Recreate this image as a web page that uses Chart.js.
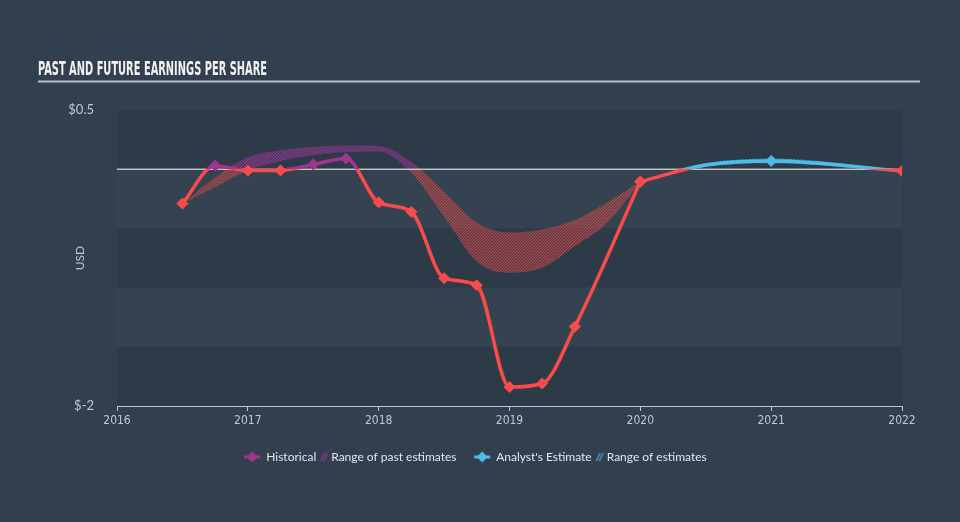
<!DOCTYPE html>
<html>
<head>
<meta charset="utf-8">
<script src="https://cdn.jsdelivr.net/npm/chart.js@4.4.1/dist/chart.umd.min.js"></script>
<style>
  html, body { margin: 0; padding: 0; background: #323f4e; }
  canvas { display: block; }
</style>
</head>
<body>
<canvas id="eps" width="960" height="522"></canvas>
<script>
// ---- data ----
const histX = [2016.5, 2016.75, 2017, 2017.25, 2017.5, 2017.75, 2018, 2018.25, 2018.5, 2018.75, 2019, 2019.25, 2019.5, 2020];
const histEps = [-0.29, 0.03, -0.012, -0.01, 0.04, 0.09, -0.28, -0.36, -0.92, -0.98, -1.84, -1.81, -1.33, -0.105];

const pastRangeX = [2016.5, 2016.75, 2017, 2017.25, 2017.5, 2017.75, 2018, 2018.25, 2018.5, 2018.75, 2019, 2019.25, 2019.5, 2019.75, 2020];
const pastRangeHigh = [-0.29, -0.07, 0.10, 0.16, 0.19, 0.20, 0.195, 0.06, -0.19, -0.45, -0.535, -0.51, -0.43, -0.28, -0.10];
const pastRangeLow = [-0.29, -0.15, -0.01, 0.07, 0.12, 0.145, 0.15, -0.03, -0.40, -0.78, -0.875, -0.83, -0.65, -0.45, -0.11];

const estX = [2020, 2020.5, 2021, 2022];
const estEps = [-0.105, 0.035, 0.07, -0.015];
const estHigh = [-0.105, 0.05, 0.09, -0.005];
const estLow = [-0.105, 0.02, 0.05, -0.025];

const zeroLineX = [2016, 2022];
const yearTicks = [2016, 2017, 2018, 2019, 2020, 2021, 2022];
const yLabelled = [0.5, -2];

const titleText = 'PAST AND FUTURE EARNINGS PER SHARE';
const legendNames = ['Historical', 'Range of past estimates        ', "Analyst's Estimate", 'Range of estimates'];

// ---- colours / fonts ----
const RED = '#fa4b4b';
const PURPLE = '#a2338f';
const BLUE = '#4bbde6';
const TICK = '#c3c8ce';
const DARK_BAND = '#2d3a48';
const LIGHT_BAND = '#35424f';
const CONDENSED = '"DejaVu Sans Condensed", "Liberation Sans Narrow", "DejaVu Sans", sans-serif';

const pts = (xs, ys) => xs.map((x, i) => ({ x, y: ys[i] }));

// stroke that changes colour where the line crosses zero
function splitAtZero(chart, above, below) {
  const { chartArea, scales } = chart;
  if (!chartArea) return below;
  const z = scales.y.getPixelForValue(0);
  const t = Math.min(1, Math.max(0, (z - chartArea.top) / (chartArea.bottom - chartArea.top)));
  const g = chart.ctx.createLinearGradient(0, chartArea.top, 0, chartArea.bottom);
  g.addColorStop(0, above);
  g.addColorStop(t, above);
  g.addColorStop(t, below);
  g.addColorStop(1, below);
  return g;
}

// diagonal hatch, coloured by side of zero
function hatch(chart, above, below) {
  const { chartArea, scales, width, height } = chart;
  if (!chartArea) return 'transparent';
  const z = scales.y.getPixelForValue(0);
  const c = document.createElement('canvas');
  c.width = width;
  c.height = height;
  const g = c.getContext('2d');
  g.lineWidth = 1.1;
  [[0, z, above], [z, height, below]].forEach(([y0, y1, col]) => {
    g.save();
    g.beginPath();
    g.rect(0, y0, width, y1 - y0);
    g.clip();
    g.strokeStyle = col;
    g.beginPath();
    for (let k = -height; k < width; k += 3) {
      g.moveTo(k, height);
      g.lineTo(k + height, 0);
    }
    g.stroke();
    g.restore();
  });
  return chart.ctx.createPattern(c, 'no-repeat');
}

function diamondIcon(color) {
  const c = document.createElement('canvas');
  c.width = 28; c.height = 12;
  const g = c.getContext('2d');
  const cx = 9.5, cy = 6;
  g.fillStyle = color;
  g.fillRect(cx - 8, cy - 1.5, 16, 3);
  g.beginPath();
  g.moveTo(cx, cy - 5.5); g.lineTo(cx + 5.5, cy); g.lineTo(cx, cy + 5.5); g.lineTo(cx - 5.5, cy);
  g.closePath();
  g.fill();
  return c;
}

function hatchIcon(color) {
  const c = document.createElement('canvas');
  c.width = 16; c.height = 12;
  const g = c.getContext('2d');
  g.strokeStyle = color;
  g.lineWidth = 1.5;
  g.beginPath();
  g.moveTo(7, 10); g.lineTo(11, 2);
  g.moveTo(10, 10); g.lineTo(14, 2);
  g.stroke();
  return c;
}

const legendIcons = [diamondIcon(PURPLE), hatchIcon('#8c3a86'), diamondIcon(BLUE), hatchIcon('#3f9ec4')];

const bandsPlugin = {
  id: 'bands',
  beforeDatasetsDraw(chart) {
    const { ctx, chartArea: a, scales: { y } } = chart;
    const vals = y.ticks.map((t) => t.value).sort((p, q) => q - p);
    ctx.save();
    for (let i = 0; i < vals.length - 1; i++) {
      const y0 = y.getPixelForValue(vals[i]);
      const y1 = y.getPixelForValue(vals[i + 1]);
      ctx.fillStyle = i % 2 ? LIGHT_BAND : DARK_BAND;
      ctx.fillRect(a.left, y0, a.right - a.left, y1 - y0);
    }
    ctx.restore();
  },
};

const headerPlugin = {
  id: 'header',
  afterDraw(chart) {
    const { ctx } = chart;
    ctx.save();
    ctx.font = 'bold 20px ' + CONDENSED;
    ctx.fillStyle = '#f2f2f2';
    ctx.textBaseline = 'alphabetic';
    const w = ctx.measureText(titleText).width;
    ctx.translate(38, 74.5);
    ctx.scale(229 / w, 1);
    ctx.fillText(titleText, 0, 0);
    ctx.restore();
    ctx.save();
    ctx.strokeStyle = '#b9bfc5';
    ctx.lineWidth = 2;
    ctx.beginPath();
    ctx.moveTo(38, 81.5);
    ctx.lineTo(920, 81.5);
    ctx.stroke();
    ctx.restore();
  },
};

const pointColor = (above) => (c) => (c.raw && c.raw.y >= 0 ? above : RED);
// estimates only carry a marker on whole years
const yearMarker = (c) => (c.raw && Number.isInteger(c.raw.x) ? 5.5 : 0);

new Chart(document.getElementById('eps'), {
  type: 'line',
  data: {
    datasets: [
      {
        label: 'Historical',
        data: pts(histX, histEps),
        borderColor: (c) => splitAtZero(c.chart, PURPLE, RED),
        borderWidth: 3.5,
        cubicInterpolationMode: 'monotone',
        pointStyle: 'rectRot',
        pointRadius: 5.5,
        pointBackgroundColor: pointColor(PURPLE),
        pointBorderColor: pointColor(PURPLE),
        pointBorderWidth: 1,
        fill: false,
        order: 0,
      },
      {
        label: "Analyst's Estimate",
        data: pts(estX, estEps),
        borderColor: (c) => splitAtZero(c.chart, BLUE, RED),
        borderWidth: 3.5,
        cubicInterpolationMode: 'monotone',
        pointStyle: 'rectRot',
        pointRadius: yearMarker,
        pointBackgroundColor: pointColor(BLUE),
        pointBorderColor: pointColor(BLUE),
        pointBorderWidth: 1,
        fill: false,
        order: 1,
      },
      {
        label: 'zero',
        data: pts(zeroLineX, [0, 0]),
        borderColor: '#ffffff',
        borderWidth: 1,
        pointRadius: 0,
        fill: false,
        order: 2,
      },
      {
        label: 'Range of past estimates',
        data: pts(pastRangeX, pastRangeHigh),
        borderWidth: 0,
        borderColor: 'transparent',
        backgroundColor: (c) => hatch(c.chart, 'rgba(170,55,160,0.9)', 'rgba(240,75,75,0.8)'),
        cubicInterpolationMode: 'monotone',
        pointRadius: 0,
        fill: '+1',
        order: 3,
      },
      {
        label: 'past low',
        data: pts(pastRangeX, pastRangeLow),
        borderWidth: 0,
        borderColor: 'transparent',
        cubicInterpolationMode: 'monotone',
        pointRadius: 0,
        fill: false,
        order: 4,
      },
      {
        label: 'Range of estimates',
        data: pts(estX, estHigh),
        borderWidth: 0,
        borderColor: 'transparent',
        backgroundColor: (c) => hatch(c.chart, 'rgba(75,190,230,0.95)', 'rgba(240,75,75,0.85)'),
        cubicInterpolationMode: 'monotone',
        pointRadius: 0,
        fill: '+1',
        order: 5,
      },
      {
        label: 'est low',
        data: pts(estX, estLow),
        borderWidth: 0,
        borderColor: 'transparent',
        cubicInterpolationMode: 'monotone',
        pointRadius: 0,
        fill: false,
        order: 6,
      },
    ],
  },
  options: {
    responsive: false,
    devicePixelRatio: 1,
    animation: false,
    layout: { padding: { top: 110, right: 0, bottom: 49, left: 0 } },
    plugins: {
      tooltip: { enabled: false },
      legend: {
        position: 'bottom',
        align: 'center',
        labels: {
          usePointStyle: true,
          boxWidth: 7,
          padding: 2,
          color: '#e4e6e8',
          font: { family: 'Lato', size: 12 },
          generateLabels: () => legendNames.map((text, i) => ({
            text,
            pointStyle: legendIcons[i],
            fillStyle: 'transparent',
            strokeStyle: 'transparent',
            lineWidth: 0,
            hidden: false,
            datasetIndex: i,
            fontColor: '#e4e6e8',
          })),
        },
      },
    },
    scales: {
      x: {
        type: 'linear',
        min: yearTicks[0],
        max: yearTicks[yearTicks.length - 1],
        afterBuildTicks: (s) => { s.ticks = yearTicks.map((v) => ({ value: v })); },
        afterFit: (s) => { s.height = 43; },
        ticks: {
          color: TICK,
          font: { family: CONDENSED, size: 12 },
          padding: 3,
          autoSkip: false,
          maxRotation: 0,
          callback: (v) => String(v),
        },
        grid: { display: true, drawOnChartArea: false, drawTicks: true, tickLength: 5, color: '#c0c6cc' },
        border: { display: true, color: '#c0c6cc', width: 1 },
      },
      y: {
        type: 'linear',
        position: 'left',
        min: -2,
        max: 0.5,
        afterFit: (s) => { s.width = 117; },
        ticks: {
          stepSize: 0.5,
          color: TICK,
          padding: 15,
          font: { family: 'Lato', size: 13 },
          callback: (v) => (yLabelled.includes(v) ? '$' + v : ''),
        },
        grid: { display: false },
        border: { display: false },
        title: {
          display: true,
          text: 'USD',
          color: TICK,
          font: { family: 'Lato', size: 12 },
          padding: { top: 73, bottom: 0 },
        },
      },
      yRight: {
        type: 'linear',
        position: 'right',
        afterFit: (s) => { s.width = 58; },
        ticks: { display: false },
        grid: { display: false },
        border: { display: false },
      },
    },
  },
  plugins: [bandsPlugin, headerPlugin],
});
</script>
</body>
</html>
